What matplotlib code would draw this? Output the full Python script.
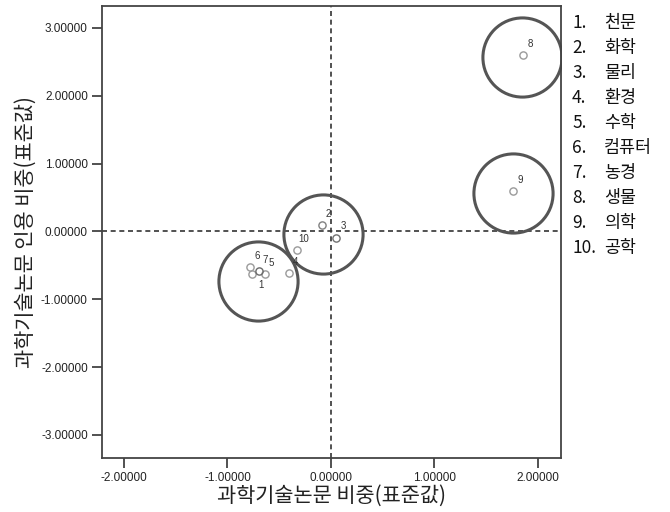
"""
Standardized share of papers vs. share of citations by field
"""
import matplotlib
matplotlib.use("Agg")
import matplotlib.pyplot as plt

plt.rcParams['font.family'] = ['Noto Sans CJK KR', 'DejaVu Sans']

# field labels (number, name)
field_ids = ["1", "2", "3", "4", "5", "6", "7", "8", "9", "10"]
field_names = ["천문", "화학", "물리", "환경", "수학", "컴퓨터", "농경", "생물", "의학", "공학"]

# standardized share of papers (x) and share of citations (y)
paper_share = [-0.76, -0.09, 0.05, -0.41, -0.64, -0.78, -0.70, 1.86, 1.76, -0.33]
cite_share = [-0.63, 0.10, -0.09, -0.61, -0.63, -0.52, -0.58, 2.60, 0.60, -0.27]

# group circles
group_x = [-0.705, -0.08, 1.845, 1.758]
group_y = [-0.73, -0.04, 2.574, 0.568]

ticks = [-3, -2, -1, 0, 1, 2, 3]

fig = plt.figure(figsize=(6.7, 5.12), dpi=100)
ax = fig.add_axes([0.1518, 0.106, 0.6851, 0.882])

ax.axhline(0, color='#333333', lw=1.2, ls=(0, (3, 2.2)), zorder=1)
ax.axvline(0, color='#333333', lw=1.2, ls=(0, (3, 2.2)), zorder=1)

ax.plot(group_x, group_y, 'o', ms=57, mfc='none', mec='#555555', mew=2.2, zorder=2)

point_colors = ['#9a9a9a'] * len(paper_share)
point_colors[6] = '#6a6a6a'
point_colors[1] = '#808080'
point_colors[2] = '#707070'
for x, y, c in zip(paper_share, cite_share, point_colors):
    ax.plot(x, y, 'o', ms=5.2, mfc='none', mec=c, mew=1.0, zorder=3)

label_offsets = [(5, 8)] * len(field_ids)
label_offsets[0] = (6, -7.5)
for lab, x, y, off in zip(field_ids, paper_share, cite_share, label_offsets):
    ax.annotate(lab, (x, y), xytext=off, textcoords='offset points',
                ha='center', va='center', fontsize=7, color='#333333',
                family='Liberation Sans', zorder=4)

ax.set_xlim(-2.215, 2.22)
ax.set_ylim(-3.335, 3.32)
ax.set_xticks([t for t in ticks if abs(t) <= 2])
ax.set_yticks(ticks)
ax.set_xticklabels([f"{t:.5f}" for t in ax.get_xticks()], family='Liberation Sans')
ax.set_yticklabels([f"{t:.5f}" for t in ax.get_yticks()], family='Liberation Sans')
ax.tick_params(direction='out', length=7, width=1.2, color='#333333',
               labelsize=8.5, labelcolor='#222222', pad=3)

for s in ax.spines.values():
    s.set_color('#444444')
    s.set_linewidth(1.3)

ax.set_xlabel("과학기술논문 비중(표준값)", fontsize=15, color='#222222', labelpad=1)
ax.set_ylabel("과학기술논문 인용 비중(표준값)", fontsize=15, color='#222222', labelpad=3)

for i, (num, name) in enumerate(zip(field_ids, field_names)):
    ypos = 1 - (23 + 25 * i) / 512
    fig.text(572 / 670, ypos, num + ".", fontsize=12.5, va='center', ha='left', color='#111111')
    fig.text(604 / 670, ypos, name, fontsize=12.5, va='center', ha='left', color='#111111')

fig.savefig("out.png", dpi=100)
plt.close(fig)
